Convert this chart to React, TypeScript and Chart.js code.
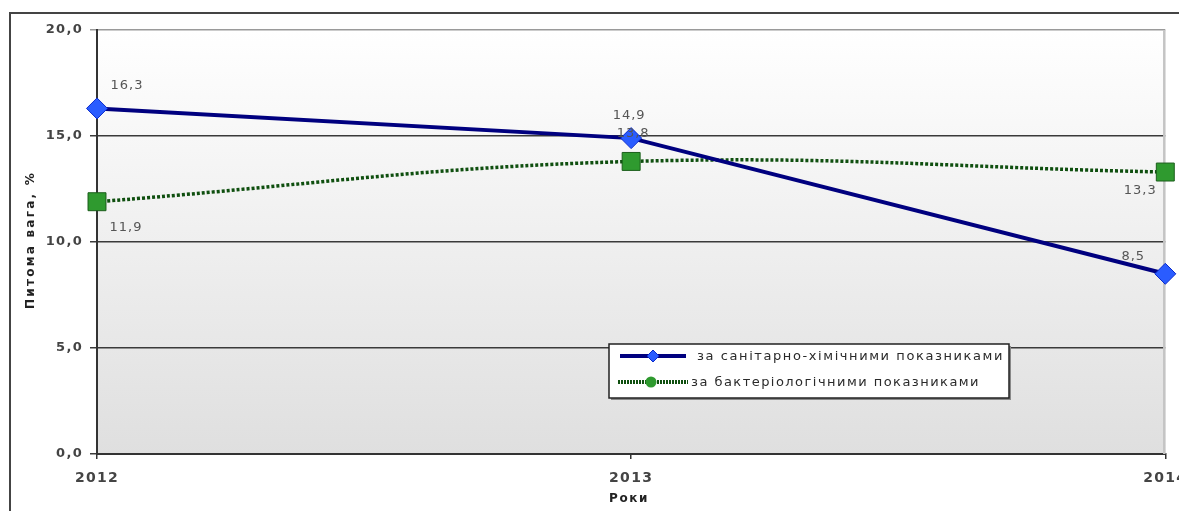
import React, { useEffect, useRef } from 'react';
import { Chart, registerables } from 'chart.js';

Chart.register(...registerables);

const years = ['2012', '2013', '2014'];
const sanitaryChemical = [16.3, 14.9, 8.5];
const bacteriological = [11.9, 13.8, 13.3];
const seriesNames = ['за санітарно-хімічними показниками', 'за бактеріологічними показниками'];
const yMin = 0;
const yMax = 20;
const yStep = 5;
const yTitle = 'Питома вага, %';
const xTitle = 'Роки';

// label offsets relative to each point (styling only)
const labelOffsets = [
  [[30, -23], [-2, -22], [-32, -17]],
  [[29, 26], [2, -28], [-25, 19]],
];

const fmt = (v: number) => v.toFixed(1).replace('.', ',');
const FONT = '"DejaVu Sans", "Liberation Sans", Arial, sans-serif';

function fitText(ctx: CanvasRenderingContext2D, text: string, x: number, y: number, target: number) {
  ctx.letterSpacing = '0px';
  const w = ctx.measureText(text).width;
  const sp = Math.max(0, (target - w) / text.length);
  ctx.letterSpacing = sp + 'px';
  ctx.fillText(text, x, y);
  ctx.letterSpacing = '0px';
}

const decorPlugin = {
  id: 'decor',
  beforeLayout(chart: any) {
    chart.ctx.letterSpacing = '1.3px';
  },
  beforeDraw(chart: any) {
    const ctx = chart.ctx as CanvasRenderingContext2D;
    const a = chart.chartArea;
    ctx.save();
    ctx.fillStyle = '#ffffff';
    ctx.fillRect(0, 0, chart.width, chart.height);
    // outer frame
    ctx.strokeStyle = '#444';
    ctx.lineWidth = 2;
    ctx.beginPath();
    ctx.moveTo(10, 512);
    ctx.lineTo(10, 13);
    ctx.lineTo(1179, 13);
    ctx.stroke();
    // plot background gradient
    const g = ctx.createLinearGradient(0, a.top, 0, a.bottom);
    g.addColorStop(0, '#ffffff');
    g.addColorStop(1, '#dfdfdf');
    ctx.fillStyle = g;
    ctx.fillRect(a.left, a.top, a.right - a.left, a.bottom - a.top);
    ctx.restore();
    ctx.letterSpacing = '1.3px';
  },
  beforeDatasetsDraw(chart: any) {
    const ctx = chart.ctx as CanvasRenderingContext2D;
    const a = chart.chartArea;
    ctx.save();
    ctx.strokeStyle = '#c4c4c4';
    ctx.lineWidth = 2.5;
    ctx.beginPath();
    ctx.moveTo(a.right - 1, a.top);
    ctx.lineTo(a.right - 1, a.bottom);
    ctx.stroke();
    ctx.restore();
  },
  afterDatasetsDraw(chart: any) {
    const ctx = chart.ctx as CanvasRenderingContext2D;
    ctx.save();
    ctx.font = '13px ' + FONT;
    ctx.fillStyle = '#555';
    ctx.textAlign = 'center';
    ctx.textBaseline = 'middle';
    ctx.letterSpacing = '1px';
    chart.data.datasets.forEach((ds: any, di: number) => {
      const meta = chart.getDatasetMeta(di);
      meta.data.forEach((pt: any, i: number) => {
        const [dx, dy] = labelOffsets[di][i];
        ctx.fillText(fmt(ds.data[i]), pt.x + dx, pt.y + dy);
      });
    });
    ctx.restore();
  },
  afterDraw(chart: any) {
    const ctx = chart.ctx as CanvasRenderingContext2D;
    const ds = chart.data.datasets;
    ctx.save();
    // axis titles
    ctx.fillStyle = '#222';
    ctx.textAlign = 'center';
    ctx.textBaseline = 'middle';
    ctx.font = 'bold 12px ' + FONT;
    ctx.save();
    ctx.translate(31, 240);
    ctx.rotate(-Math.PI / 2);
    fitText(ctx, yTitle, 0, 0, 138);
    ctx.restore();
    fitText(ctx, xTitle, 629, 499, 40);

    // legend box
    ctx.fillStyle = '#888';
    ctx.fillRect(611, 346, 400, 54);
    ctx.fillStyle = '#ffffff';
    ctx.fillRect(609, 344, 400, 54);
    ctx.strokeStyle = '#222';
    ctx.lineWidth = 1.5;
    ctx.strokeRect(609, 344, 400, 54);

    // row 1
    ctx.strokeStyle = ds[0].borderColor;
    ctx.lineWidth = 4;
    ctx.setLineDash([]);
    ctx.beginPath();
    ctx.moveTo(620, 356);
    ctx.lineTo(686, 356);
    ctx.stroke();
    ctx.fillStyle = ds[0].pointBackgroundColor;
    ctx.strokeStyle = ds[0].pointBorderColor;
    ctx.lineWidth = 1;
    ctx.beginPath();
    ctx.moveTo(653, 350);
    ctx.lineTo(659, 356);
    ctx.lineTo(653, 362);
    ctx.lineTo(647, 356);
    ctx.closePath();
    ctx.fill();
    ctx.stroke();

    // row 2
    ctx.strokeStyle = ds[1].borderColor;
    ctx.lineWidth = 4;
    ctx.setLineDash([2, 1]);
    ctx.beginPath();
    ctx.moveTo(618, 382);
    ctx.lineTo(688, 382);
    ctx.stroke();
    ctx.setLineDash([]);
    ctx.fillStyle = ds[1].pointBackgroundColor;
    ctx.beginPath();
    ctx.arc(651, 382, 5.5, 0, Math.PI * 2);
    ctx.fill();

    ctx.fillStyle = '#2a2a2a';
    ctx.font = '13px ' + FONT;
    ctx.textAlign = 'left';
    fitText(ctx, seriesNames[0], 697, 357, 307);
    fitText(ctx, seriesNames[1], 691, 383, 289);
    ctx.restore();
  },
};

export default function App() {
  const ref = useRef<HTMLCanvasElement>(null);
  useEffect(() => {
    if (!ref.current) return;
    const chart = new Chart(ref.current, {
      type: 'line',
      data: {
        labels: years,
        datasets: [
          {
            label: seriesNames[0],
            data: sanitaryChemical,
            borderColor: '#00007f',
            borderWidth: 4,
            tension: 0,
            pointStyle: 'rectRot',
            pointRadius: 10.5,
            pointBackgroundColor: '#2a5cff',
            pointBorderColor: '#0a2acc',
            pointBorderWidth: 1,
            clip: false,
          },
          {
            label: seriesNames[1],
            data: bacteriological,
            borderColor: '#0f4f0f',
            borderWidth: 3.5,
            borderDash: [3, 2],
            tension: 0.4,
            pointStyle: 'rect',
            pointRadius: 12.7,
            pointBackgroundColor: '#2f9a2f',
            pointBorderColor: '#1b5e1b',
            pointBorderWidth: 1,
            clip: false,
          },
        ],
      },
      options: {
        responsive: false,
        animation: false,
        devicePixelRatio: 1,
        layout: { padding: { top: 30, right: 12, left: 0, bottom: 0 } },
        plugins: {
          legend: { display: false },
          tooltip: { enabled: false },
          title: { display: false },
        },
        scales: {
          x: {
            type: 'category',
            offset: false,
            grid: {
              display: true,
              drawOnChartArea: false,
              drawTicks: true,
              tickLength: 5,
              color: '#333',
              lineWidth: 1.5,
            },
            border: { display: true, color: '#333', width: 2 },
            ticks: {
              font: { family: FONT, size: 14, weight: 'bold' },
              color: '#444',
              padding: 11,
              maxRotation: 0,
              autoSkip: false,
            },
            afterFit(s: any) {
              s.height = 57;
              s.paddingLeft = 0;
              s.paddingRight = 0;
            },
          },
          y: {
            min: yMin,
            max: yMax,
            ticks: {
              stepSize: yStep,
              callback: (v: any) => fmt(Number(v)),
              font: { family: FONT, size: 13, weight: 'bold' },
              color: '#444',
              padding: 7,
            },
            grid: {
              color: (c: any) => (c.tick && c.tick.value === yMax ? '#9a9a9a' : '#3a3a3a'),
              lineWidth: 1.5,
              tickLength: 7,
            },
            border: { display: true, color: '#333', width: 2 },
            afterFit(s: any) {
              s.width = 97;
              s.paddingTop = 0;
              s.paddingBottom = 0;
            },
          },
        },
      },
      plugins: [decorPlugin],
    } as any);
    return () => chart.destroy();
  }, []);
  return (
    <div style={{ position: 'fixed', left: 0, top: 0, width: 1179, height: 511, background: '#fff' }}>
      <canvas ref={ref} width={1179} height={511} style={{ display: 'block', width: 1179, height: 511 }} />
    </div>
  );
}
